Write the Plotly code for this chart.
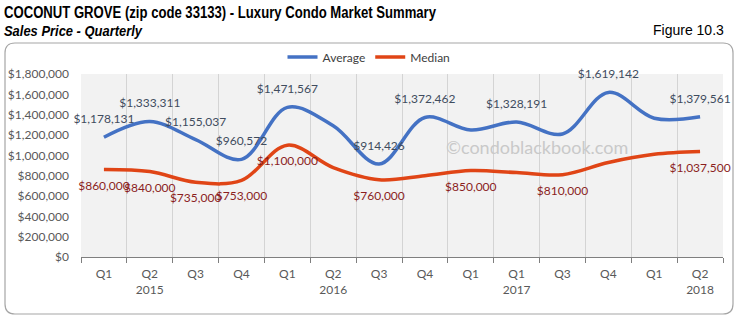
import plotly.graph_objects as go

quarters = ["Q1", "Q2", "Q3", "Q4", "Q1", "Q2", "Q3", "Q4", "Q1", "Q1", "Q3", "Q4", "Q1", "Q2"]
years = ["", "2015", "", "", "", "2016", "", "", "", "2017", "", "", "", "2018"]

average = [1178131, 1333311, 1155037, 960572, 1471567, 1290000, 914426, 1372462,
           1250000, 1328191, 1210000, 1619142, 1365000, 1379561]
average_labeled = [True, True, True, True, True, False, True, True,
                   False, True, False, True, False, True]

median = [860000, 840000, 735000, 753000, 1100000, 880000, 760000, 800000,
          850000, 830000, 810000, 930000, 1010000, 1037500]
median_labeled = [True, True, True, True, True, False, True, False,
                  True, False, True, False, False, True]

title_text = "COCONUT GROVE (zip code 33133) - Luxury Condo Market Summary"
subtitle_text = "Sales Price - Quarterly"
figure_text = "Figure 10.3"
watermark_text = "©condoblackbook.com"

x = list(range(len(quarters)))
ticktext = [q + ("<br>" + y if y else "") for q, y in zip(quarters, years)]


def money(v):
    return "${:,.0f}".format(v)


avg_text = [money(v) if f else "" for v, f in zip(average, average_labeled)]
med_text = [money(v) if f else "" for v, f in zip(median, median_labeled)]

FONT = "Lato, 'Open Sans', sans-serif"
TITLE_FONT = "'Liberation Sans', Arial, sans-serif"

fig = go.Figure()
fig.add_trace(go.Scatter(
    x=x, y=average, name="Average", mode="lines+markers+text",
    line=dict(color="#4472C4", width=3.5, shape="spline", smoothing=1.0),
    marker=dict(size=16, color="rgba(0,0,0,0)", line=dict(width=0)),
    text=avg_text, textposition="top center",
    textfont=dict(family=FONT, size=12, color="#3F4C5E"),
    cliponaxis=False,
))
fig.add_trace(go.Scatter(
    x=x, y=median, name="Median", mode="lines+markers+text",
    line=dict(color="#E04516", width=3.5, shape="spline", smoothing=1.0),
    marker=dict(size=16, color="rgba(0,0,0,0)", line=dict(width=0)),
    text=med_text, textposition="bottom center",
    textfont=dict(family=FONT, size=12, color="#8B1E1E"),
    cliponaxis=False,
))

W, H = 739, 327
L, R, T, B = 81, 16, 74, 70
pw, ph = W - L - R, H - T - B


def px(xp):
    return (xp - L) / pw


def py(yp):
    return (H - B - yp) / ph


fig.update_layout(
    width=W, height=H,
    margin=dict(l=L, r=R, t=T, b=B),
    paper_bgcolor="white",
    plot_bgcolor="#F2F2F2",
    font=dict(family=FONT, size=12, color="#595959"),
    showlegend=True,
    legend=dict(orientation="h", x=px(369), y=py(57), xanchor="center", yanchor="middle",
                font=dict(family=FONT, size=12, color="#404040"),
                bgcolor="rgba(0,0,0,0)", itemwidth=30, tracegroupgap=0),
    xaxis=dict(
        range=[-0.5, len(x) - 0.5],
        tickmode="array", tickvals=x, ticktext=ticktext,
        ticks="", showgrid=False, zeroline=False,
        showline=True, linecolor="#7F7F7F", linewidth=1,
        tickfont=dict(family=FONT, size=12, color="#595959"),
        ticklabelstandoff=6,
        minor=dict(tickmode="array", tickvals=[i - 0.5 for i in range(len(x) + 1)],
                   ticks="outside", ticklen=5, tickcolor="#7F7F7F",
                   showgrid=True, gridcolor="#D4D4D4", gridwidth=1),
        fixedrange=True,
    ),
    yaxis=dict(
        range=[0, 1800000], dtick=200000, tickformat="$,.0f",
        showgrid=False, zeroline=False, showline=False, ticks="",
        tickfont=dict(family=FONT, size=12, color="#595959"),
        ticklabelstandoff=11,
        automargin=False,
    ),
)

fig.add_annotation(text=title_text, align="left",
                   xref="paper", yref="paper", x=px(2), y=py(2), xanchor="left", yanchor="top",
                   showarrow=False,
                   font=dict(family=TITLE_FONT, size=16, color="#000000", weight="bold"))
fig.add_annotation(text=subtitle_text, align="left",
                   xref="paper", yref="paper", x=px(2), y=py(20), xanchor="left", yanchor="top",
                   showarrow=False,
                   font=dict(family=TITLE_FONT, size=15, color="#000000", weight="bold", style="italic"))
fig.add_annotation(text=figure_text, align="right",
                   xref="paper", yref="paper", x=px(726), y=py(20), xanchor="right", yanchor="top",
                   showarrow=False, font=dict(family=TITLE_FONT, size=14, color="#000000"))
fig.add_annotation(text=watermark_text,
                   xref="paper", yref="paper", x=px(537), y=py(147), xanchor="center", yanchor="middle",
                   showarrow=False, font=dict(family=FONT, size=18, color="#C9C9C9"))

# rounded chart frame
x0, y0, x1, y1, r = px(5), py(43), px(733), py(314), 10
rx, ry = r / pw, r / ph
path = (f"M {x0 + rx} {y0} L {x1 - rx} {y0} Q {x1} {y0} {x1} {y0 - ry} "
        f"L {x1} {y1 + ry} Q {x1} {y1} {x1 - rx} {y1} L {x0 + rx} {y1} "
        f"Q {x0} {y1} {x0} {y1 + ry} L {x0} {y0 - ry} Q {x0} {y0} {x0 + rx} {y0} Z")
fig.add_shape(type="path", path=path, xref="paper", yref="paper",
              line=dict(color="#A6A6A6", width=1.2), layer="below")

# condense the heading texts (the reference uses a narrow typeface)
squeeze_js = """
var gd = document.getElementById('{plot_id}');
function squeezeTitles() {
  var widths = {};
  widths[%s] = 432;
  widths[%s] = 138;
  gd.querySelectorAll('text.annotation-text').forEach(function (t) {
    var w = widths[t.textContent];
    if (w) {
      t.setAttribute('textLength', w);
      t.setAttribute('lengthAdjust', 'spacingAndGlyphs');
    }
  });
}
squeezeTitles();
gd.on('plotly_afterplot', squeezeTitles);
""" % (repr(title_text), repr(subtitle_text))

fig.write_html("out.html", post_script=squeeze_js)
